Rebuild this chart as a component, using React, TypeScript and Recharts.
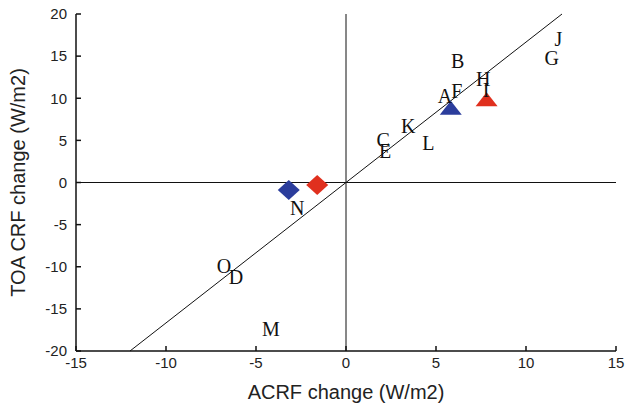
import { ScatterChart, Scatter, XAxis, YAxis, ReferenceLine } from "recharts";

// labelled models (letters)
const letters = ["A", "B", "C", "D", "E", "F", "G", "H", "I", "J", "K", "L", "M", "N", "O"];
const letterX = [5.5, 6.21, 2.07, -6.11, 2.17, 6.15, 11.43, 7.63, 7.78, 11.8, 3.46, 4.57, -4.17, -2.71, -6.78];
const letterY = [10.19, 14.34, 5.04, -11.3, 3.66, 10.77, 14.74, 12.29, 10.98, 17.03, 6.71, 4.65, -17.43, -3.06, -10.0];

// ensemble markers
const blueDiamond = [{ x: -3.18, y: -0.89 }];
const redDiamond = [{ x: -1.6, y: -0.3 }];
const blueTriangle = [{ x: 5.82, y: 8.88 }];
const redTriangle = [{ x: 7.81, y: 9.88 }];

// fitted line endpoints
const fitLine = [{ x: -12, y: -20 }, { x: 12, y: 20 }];

const xTicks = [-15, -10, -5, 0, 5, 10, 15];
const yTicks = [-20, -15, -10, -5, 0, 5, 10, 15, 20];

const BLUE = "#2b3d9c";
const RED = "#e0301e";

const letterData = letters.map((l, i) => ({ x: letterX[i], y: letterY[i], label: l }));

const Diamond = (color: string) => (p: any) => (
  <polygon
    points={`${p.cx - 11},${p.cy} ${p.cx},${p.cy - 10} ${p.cx + 11},${p.cy} ${p.cx},${p.cy + 10}`}
    fill={color}
  />
);

const Triangle = (color: string) => (p: any) => (
  <polygon
    points={`${p.cx - 11},${p.cy + 7} ${p.cx},${p.cy - 7} ${p.cx + 11},${p.cy + 7}`}
    fill={color}
  />
);

const LetterMark = (p: any) => (
  <text
    x={p.cx}
    y={p.cy}
    dy="0.33em"
    textAnchor="middle"
    fontFamily="'Liberation Serif', 'Times New Roman', serif"
    fontSize={20}
    fill="#111"
  >
    {p.payload.label}
  </text>
);

const tickFont = { fontSize: 15, fill: "#222", fontFamily: "'Liberation Sans', Arial, sans-serif" };
const axisStroke = { stroke: "#111", strokeWidth: 1.5 };

export default function App() {
  return (
    <div style={{ position: "absolute", left: 0, top: 0, background: "#fff" }}>
      <ScatterChart width={627} height={408} margin={{ top: 14, right: 11, left: 0, bottom: 0 }}>
        <XAxis
          type="number"
          dataKey="x"
          xAxisId="b"
          domain={[-15, 15]}
          ticks={xTicks}
          height={57}
          tick={tickFont}
          tickSize={-5}
          tickMargin={11}
          axisLine={axisStroke}
          tickLine={axisStroke}
          allowDataOverflow
          label={{
            value: "ACRF change (W/m2)",
            position: "center",
            dy: 12,
            fontSize: 20,
            fill: "#222",
            fontFamily: "'Liberation Sans', Arial, sans-serif",
          }}
        />
        <XAxis
          type="number"
          dataKey="x"
          xAxisId="t"
          orientation="top"
          domain={[-15, 15]}
          ticks={xTicks}
          height={0}
          tickFormatter={() => ""}
          tickSize={-5}
          axisLine={axisStroke}
          tickLine={axisStroke}
          allowDataOverflow
        />
        <YAxis
          type="number"
          dataKey="y"
          yAxisId="l"
          domain={[-20, 20]}
          ticks={yTicks}
          width={76}
          tick={tickFont}
          tickSize={-5}
          tickMargin={14}
          axisLine={axisStroke}
          tickLine={axisStroke}
          allowDataOverflow
          label={{
            value: "TOA CRF change (W/m2)",
            position: "center",
            angle: -90,
            dx: -20,
            fontSize: 20,
            fill: "#222",
            fontFamily: "'Liberation Sans', Arial, sans-serif",
          }}
        />
        <YAxis
          type="number"
          dataKey="y"
          yAxisId="r"
          orientation="right"
          domain={[-20, 20]}
          ticks={yTicks}
          width={0}
          tickFormatter={() => ""}
          tickSize={-5}
          axisLine={axisStroke}
          tickLine={axisStroke}
          allowDataOverflow
        />
        <ReferenceLine xAxisId="b" yAxisId="l" x={0} stroke="#111" strokeWidth={1} />
        <ReferenceLine xAxisId="b" yAxisId="l" y={0} stroke="#111" strokeWidth={1} />
        <Scatter xAxisId="b" yAxisId="l" data={blueDiamond} shape={Diamond(BLUE)} isAnimationActive={false} />
        <Scatter xAxisId="b" yAxisId="l" data={redDiamond} shape={Diamond(RED)} isAnimationActive={false} />
        <Scatter xAxisId="b" yAxisId="l" data={blueTriangle} shape={Triangle(BLUE)} isAnimationActive={false} />
        <Scatter xAxisId="b" yAxisId="l" data={redTriangle} shape={Triangle(RED)} isAnimationActive={false} />
        <Scatter xAxisId="b" yAxisId="l" data={letterData} shape={LetterMark} isAnimationActive={false} />
        <ReferenceLine
          xAxisId="b"
          yAxisId="l"
          segment={fitLine}
          stroke="#111"
          strokeWidth={1}
          ifOverflow="visible"
        />
      </ScatterChart>
    </div>
  );
}
